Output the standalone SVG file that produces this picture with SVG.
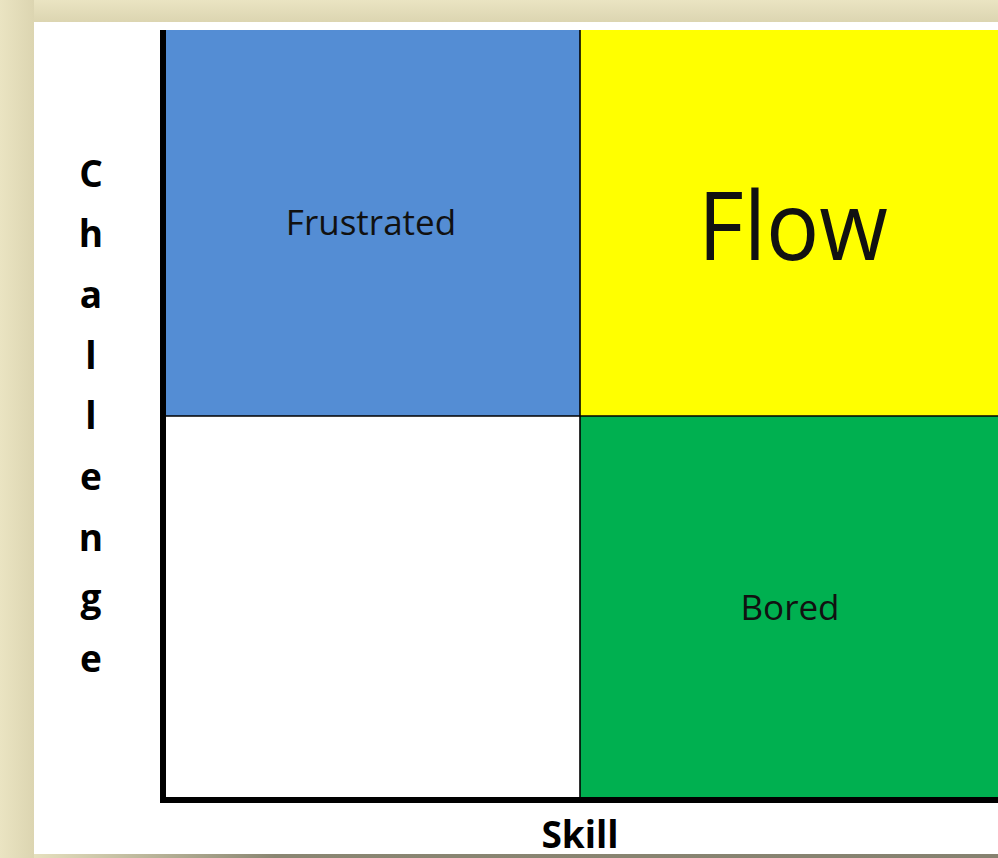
<svg xmlns="http://www.w3.org/2000/svg" width="998" height="858" viewBox="0 0 998 858">
  <defs>
    <linearGradient id="bottomBar" x1="0" y1="0" x2="1" y2="0">
      <stop offset="0" stop-color="#E6E0BE"/>
      <stop offset="0.25" stop-color="#8A8672"/>
      <stop offset="1" stop-color="#868270"/>
    </linearGradient>
    <linearGradient id="leftShade" x1="0" y1="0" x2="1" y2="0">
      <stop offset="0" stop-color="#EAE4C2"/>
      <stop offset="1" stop-color="#DCD5B1"/>
    </linearGradient>
    <linearGradient id="topShade" x1="0" y1="0" x2="0" y2="1">
      <stop offset="0" stop-color="#EAE4C2"/>
      <stop offset="1" stop-color="#DCD5B1"/>
    </linearGradient>
  </defs>
  <style>
    .lbl { font-family: "Open Sans", "Liberation Sans", sans-serif; fill: #111; text-anchor: middle; }
    .axis { font-family: "Open Sans", "Liberation Sans", sans-serif; font-weight: bold; font-size: 37px; fill: #000; text-anchor: middle; }
    .div { stroke: #000; stroke-width: 1.6; fill: none; }
    .ax { stroke: #000; stroke-width: 6; fill: none; }
  </style>

  <!-- background frame -->
  <rect x="0" y="0" width="998" height="858" fill="#EAE4C2"/>
  <rect x="0" y="0" width="34" height="858" fill="url(#leftShade)"/>
  <rect x="34" y="0" width="964" height="22" fill="url(#topShade)"/>
  <rect x="34" y="22" width="964" height="832" fill="#FFFFFF"/>
  <rect x="34" y="854" width="964" height="4" fill="url(#bottomBar)"/>

  <g id="frustrated">
    <rect x="163" y="30" width="417" height="386" fill="#548DD4"/>
    <text class="lbl" x="371" y="235" font-size="35">Frustrated</text>
  </g>
  <g id="flow">
    <rect x="580" y="30" width="418" height="386" fill="#FFFF00"/>
    <text class="lbl" x="793" y="260" font-size="96" textLength="190" lengthAdjust="spacingAndGlyphs">Flow</text>
  </g>
  <g id="empty">
    <rect x="163" y="416" width="417" height="384" fill="#FFFFFF"/>
  </g>
  <g id="bored">
    <rect x="580" y="416" width="418" height="384" fill="#00B050"/>
    <text class="lbl" x="790" y="620" font-size="35">Bored</text>
  </g>

  <g id="connectors">
    <line class="div" x1="580" y1="30" x2="580" y2="800"/>
    <line class="div" x1="163" y1="416" x2="998" y2="416"/>
    <line class="ax" x1="163" y1="30" x2="163" y2="803"/>
    <line class="ax" x1="160" y1="800" x2="998" y2="800"/>
  </g>

  <g id="axis-labels">
    <text class="axis" x="580" y="848">Skill</text>
    <text class="axis" x="91" y="187">C</text>
    <text class="axis" x="91" y="247">h</text>
    <text class="axis" x="91" y="308">a</text>
    <text class="axis" x="91" y="369">l</text>
    <text class="axis" x="91" y="429">l</text>
    <text class="axis" x="91" y="490">e</text>
    <text class="axis" x="91" y="551">n</text>
    <text class="axis" x="91" y="611">g</text>
    <text class="axis" x="91" y="672">e</text>
  </g>
</svg>
